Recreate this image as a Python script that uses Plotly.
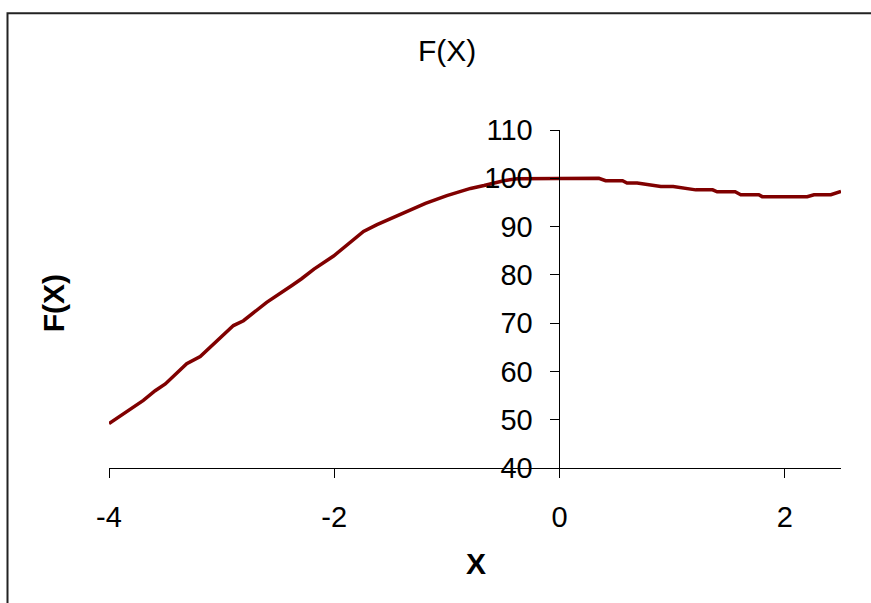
import plotly.graph_objects as go

x_values = [-4.0, -3.695, -3.59, -3.50, -3.31, -3.19, -2.895, -2.806, -2.60, -2.48,
            -2.376, -2.29, -2.18, -2.006, -1.74, -1.62, -1.41, -1.19, -1.0, -0.79,
            -0.67, -0.495, -0.376, 0.35, 0.41, 0.56, 0.60, 0.69, 0.90, 1.01,
            1.21, 1.36, 1.40, 1.56, 1.61, 1.77, 1.80, 2.20, 2.26, 2.41, 2.5]
f_values = [49.2, 54.0, 56.0, 57.4, 61.6, 63.1, 69.5, 70.5, 74.3, 76.1,
            77.8, 79.2, 81.2, 83.9, 89.0, 90.4, 92.6, 94.8, 96.4, 97.9,
            98.5, 99.5, 99.9, 100.0, 99.5, 99.5, 99.0, 99.0, 98.3, 98.3,
            97.6, 97.6, 97.2, 97.2, 96.6, 96.6, 96.2, 96.2, 96.6, 96.6, 97.3]
x_ticks = [-4, -2, 0, 2]
x_tick_labels = ["-4", "-2", "0", "2"]
y_ticks = [40, 50, 60, 70, 80, 90, 100, 110]

FONT = "Liberation Sans, Arial, sans-serif"

fig = go.Figure()
fig.add_trace(go.Scatter(x=x_values, y=f_values, mode="lines",
                         line=dict(color="#800000", width=3.5), showlegend=False,
                         cliponaxis=False))

x_min, x_max = -4, 2.5
fig.update_layout(
    width=871, height=603,
    margin=dict(l=109, r=30, t=130, b=135),
    paper_bgcolor="white", plot_bgcolor="white",
    font=dict(family=FONT, color="black"),
    xaxis=dict(range=[x_min, x_max], tickvals=x_ticks, ticktext=x_tick_labels,
               ticks="outside", ticklen=9,
               tickcolor="black", showline=True, linecolor="black", linewidth=1,
               showgrid=False, zeroline=False, tickfont=dict(size=29),
               ticklabelstandoff=14, fixedrange=True),
    yaxis=dict(range=[40, 110], tickvals=y_ticks, ticks="outside", ticklen=9,
               tickcolor="black", showline=True, linecolor="black", linewidth=1,
               showgrid=False, zeroline=False, tickfont=dict(size=29),
               anchor="free", position=(0 - x_min) / (x_max - x_min),
               ticklabelstandoff=12, fixedrange=True),
    annotations=[
        dict(text="F(X)", xref="paper", yref="paper", x=0.4617, y=1.234,
             showarrow=False, font=dict(size=30), xanchor="center", yanchor="middle"),
        dict(text="<b>F(X)</b>", xref="paper", yref="paper", x=-0.0765, y=0.4874,
             showarrow=False, font=dict(size=30), textangle=-90,
             xanchor="center", yanchor="middle"),
        dict(text="<b>X</b>", xref="paper", yref="paper", x=0.5014, y=-0.283,
             showarrow=False, font=dict(size=30), xanchor="center", yanchor="middle"),
    ],
    shapes=[
        dict(type="rect", xref="paper", yref="paper",
             x0=(7.5 - 109) / 732, x1=(880 - 109) / 732,
             y0=(467.5 - 615) / 337.5, y1=(467.5 - 13.5) / 337.5,
             line=dict(color="#222222", width=2), fillcolor="rgba(0,0,0,0)",
             layer="below"),
    ],
)

fig.write_html("out.html", config={"displayModeBar": False},
               post_script="document.body.style.margin='0';document.body.style.overflow='hidden';")
